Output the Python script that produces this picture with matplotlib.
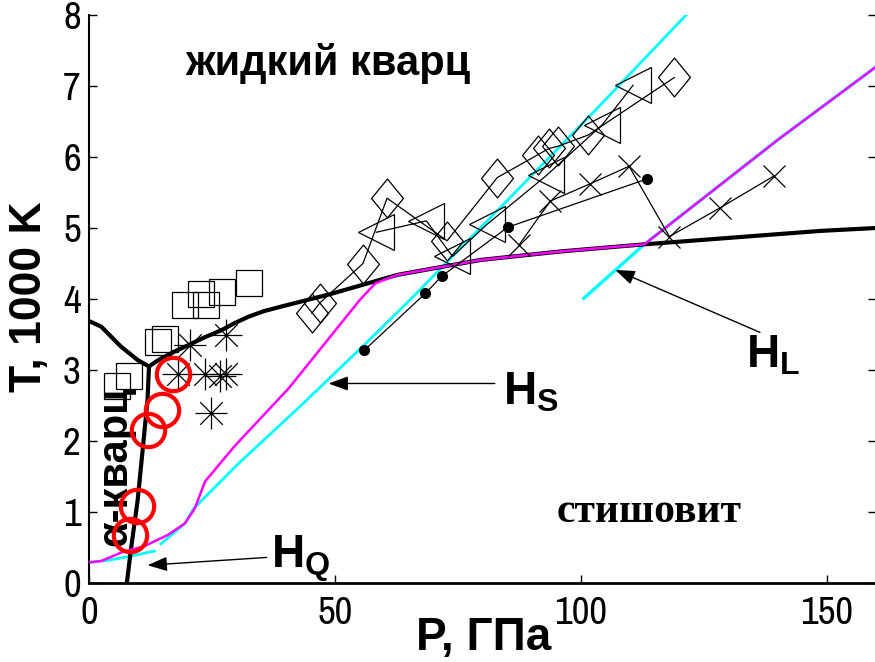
import matplotlib
matplotlib.use("Agg")
import matplotlib.pyplot as plt
from matplotlib import font_manager
from matplotlib.path import Path

# ---------------- data (P in GPa, T in 1000 K) ----------------
# phase boundaries
quartz_liquid_P = [0.0, 2.5, 6.5, 9.9, 12.2]
quartz_liquid_T = [3.69, 3.61, 3.33, 3.14, 3.05]

quartz_stish_P = [12.2, 11.9, 10.9, 9.9, 8.5, 7.7]
quartz_stish_T = [3.05, 2.58, 1.87, 1.17, 0.46, 0.0]

melting_P = [12.2, 14.1, 17.4, 20.2, 23.5, 26.9, 29.6, 32.4, 35.6, 38.9, 49.1, 62.7,
             79.6, 95.9, 112.9, 148.9, 160.0]
melting_T = [3.05, 3.14, 3.26, 3.35, 3.46, 3.56, 3.66, 3.75, 3.83, 3.89, 4.07, 4.34,
             4.55, 4.67, 4.77, 4.96, 5.00]

# calculated Hugoniots
hq_P = [0.0, 3.9, 8.6, 13.3]
hq_T = [0.29, 0.32, 0.38, 0.45]

hs_cyan_P = [14.6, 19.5, 21.3, 30.5, 42.8, 55.6, 65.3, 71.5, 102.0, 121.4]
hs_cyan_T = [0.55, 0.84, 1.05, 1.69, 2.48, 3.33, 3.99, 4.43, 6.59, 8.00]

hl_cyan_P = [100.6, 112.9, 140.0, 160.0]
hl_cyan_T = [4.01, 4.77, 6.24, 7.27]

hs_magenta_P = [0.0, 2.5, 6.6, 11.3, 16.1, 19.5, 21.5, 23.6, 29.5, 40.7, 55.1, 58.2,
                62.7, 79.6, 95.9, 112.9, 140.0, 160.0]
hs_magenta_T = [0.29, 0.31, 0.43, 0.52, 0.68, 0.84, 1.05, 1.43, 1.92, 2.75, 3.99, 4.22,
                4.34, 4.55, 4.67, 4.77, 6.24, 7.27]

# experimental points
circle_P = [8.4, 9.8, 12.0, 14.9, 17.1]
circle_T = [0.68, 1.08, 2.15, 2.44, 2.95]

square_P = [19.5, 22.7, 23.7, 27.1, 32.5, 14.1, 15.5, 8.1, 5.7]
square_T = [3.91, 4.07, 3.92, 4.10, 4.23, 3.40, 3.44, 2.92, 2.77]

star_P = [20.6, 27.8, 18.1, 23.6, 26.7, 27.8, 24.8]
star_T = [3.35, 3.49, 2.95, 2.94, 2.92, 2.94, 2.39]

diamond_P = [45.3, 47.0, 55.7, 60.6, 72.8, 83.0, 91.2, 93.5, 95.3, 101.5, 119.0]
diamond_T = [3.80, 3.95, 4.50, 5.42, 4.82, 5.71, 6.03, 6.12, 6.15, 6.31, 7.12]

triangle_P = [58.4, 68.6, 73.9, 80.9, 93.0, 104.3, 110.6]
triangle_T = [4.94, 5.10, 4.60, 5.05, 5.74, 6.45, 7.01]

dot_P = [56.0, 68.4, 71.7, 85.1, 113.4]
dot_T = [3.28, 4.08, 4.32, 5.01, 5.69]

cross_P = [87.4, 93.8, 101.8, 109.8, 118.0, 128.2, 139.2]
cross_T = [4.76, 5.38, 5.62, 5.87, 4.88, 5.28, 5.73]

x_ticks = [0, 50, 100, 150]
y_ticks = [0, 1, 2, 3, 4, 5, 6, 7, 8]

# ---------------- fonts ----------------
names = sorted({f.name for f in font_manager.fontManager.ttflist})
narrow = [n for n in names if ("Narrow" in n or "Condensed" in n)]
tick_family = narrow[0] if narrow else "Liberation Sans"
plt.rcParams["font.family"] = ["Liberation Sans", "DejaVu Sans"]
plt.rcParams["mathtext.fontset"] = "custom"
plt.rcParams["mathtext.rm"] = "Liberation Sans"
plt.rcParams["mathtext.bf"] = "Liberation Sans:bold"
plt.rcParams["mathtext.it"] = "Liberation Sans:italic"

W, H = 875, 662
fig = plt.figure(figsize=(W / 100, H / 100), dpi=100)
ax = fig.add_axes([89 / W, 1 - 583 / H, (876 - 89) / W, (583 - 15) / H])

# phase boundaries
for px, ty in [(quartz_liquid_P, quartz_liquid_T), (quartz_stish_P, quartz_stish_T),
               (melting_P, melting_T)]:
    ax.plot(px, ty, color="black", lw=3.0, solid_capstyle="round", zorder=3)

# Hugoniots
ax.plot(hq_P, hq_T, color="cyan", lw=2.0, zorder=2)
ax.plot(hs_cyan_P, hs_cyan_T, color="cyan", lw=2.0, zorder=2)
ax.plot(hl_cyan_P, hl_cyan_T, color="cyan", lw=2.4, zorder=2)
ax.plot(hs_magenta_P, hs_magenta_T, color="magenta", lw=1.8, zorder=4)

# eight-armed asterisk marker
c = 0.7071
star_path = Path([(-1, 0), (1, 0), (0, -1), (0, 1), (-c, -c), (c, c), (-c, c), (c, -c)],
                 [Path.MOVETO, Path.LINETO] * 4)
# slightly tall diamond marker
diamond_path = Path([(0, 1), (0.82, 0), (0, -1), (-0.82, 0), (0, 1)],
                    [Path.MOVETO, Path.LINETO, Path.LINETO, Path.LINETO, Path.CLOSEPOLY])

ax.plot(square_P, square_T, ls="none", marker="s", ms=19, mfc="none", mec="black",
        mew=0.9, zorder=5)
ax.plot(star_P, star_T, ls="none", marker=star_path, ms=23, mfc="none", mec="black",
        mew=0.9, zorder=5)
ax.plot(diamond_P, diamond_T, color="black", lw=0.9, marker=diamond_path, ms=28,
        mfc="none", mec="black", mew=0.9, zorder=5)
ax.plot(triangle_P, triangle_T, color="black", lw=0.9, marker="<", ms=26, mfc="none",
        mec="black", mew=0.9, zorder=5)
ax.plot(dot_P, dot_T, color="black", lw=0.9, marker="o", ms=7, mfc="black",
        mec="black", zorder=5)
ax.plot(cross_P, cross_T, color="black", lw=0.9, marker="x", ms=16.5, mec="black",
        mew=0.9, zorder=5)
ax.plot(circle_P, circle_T, ls="none", marker="o", ms=24, mfc="none", mec="red",
        mew=3.0, zorder=6)

# labels of the phase fields
ax.text(19.6, 7.15, "жидкий кварц", fontsize=30, fontweight="bold", ha="left",
        va="baseline")
ax.text(95.1, 0.86, "стишовит", fontsize=30, fontweight="bold", ha="left",
        va="baseline", family=["Liberation Serif", "DejaVu Serif"])
ax.text(5.3, 1.65, "α-кварц", fontsize=30, fontweight="bold", rotation=90,
        ha="center", va="center")

# Hugoniot labels with arrows
arrow = dict(arrowstyle="-|>,head_length=0.6,head_width=0.22", color="black", lw=1.0,
             shrinkA=0, shrinkB=0, mutation_scale=20)
ax.annotate("", xy=(48.7, 2.81), xytext=(82.5, 2.81), arrowprops=arrow, zorder=7)
ax.annotate("", xy=(11.9, 0.25), xytext=(36.1, 0.36), arrowprops=arrow, zorder=7)
ax.annotate("", xy=(107.0, 4.41), xytext=(136.4, 3.53), arrowprops=arrow, zorder=7)
ax.text(84.2, 2.52, r"$\mathbf{H}_\mathbf{S}$", fontsize=33, ha="left", va="baseline")
ax.text(133.6, 3.03, r"$\mathbf{H}_\mathbf{L}$", fontsize=33, ha="left", va="baseline")
ax.text(36.9, 0.20, r"$\mathbf{H}_\mathbf{Q}$", fontsize=33, ha="left", va="baseline")

# axes
ax.set_xlim(0, 160)
ax.set_ylim(0, 8)
ax.set_xticks(x_ticks)
ax.set_yticks(y_ticks)
tick_size = 28 if narrow else 26
ax.set_xticklabels([str(v) for v in x_ticks], family=tick_family, fontsize=tick_size)
ax.set_yticklabels([str(v) for v in y_ticks], family=tick_family, fontsize=tick_size)
ax.tick_params(direction="in", length=6, width=1.0, right=True, pad=6)
ax.tick_params(axis="x", pad=9)
ax.spines["top"].set_visible(False)
ax.spines["right"].set_visible(False)
ax.spines["left"].set_linewidth(1.5)
ax.spines["bottom"].set_linewidth(2.0)

fig.text(30 / W, 1 - 297 / H, "T, 1000 K", fontsize=32, fontweight="bold",
         rotation=90, ha="center", va="center")
fig.text(484 / W, 1 - 650 / H, "P, ГПа", fontsize=33, fontweight="bold",
         ha="center", va="baseline")

fig.savefig("out.png", dpi=100)
